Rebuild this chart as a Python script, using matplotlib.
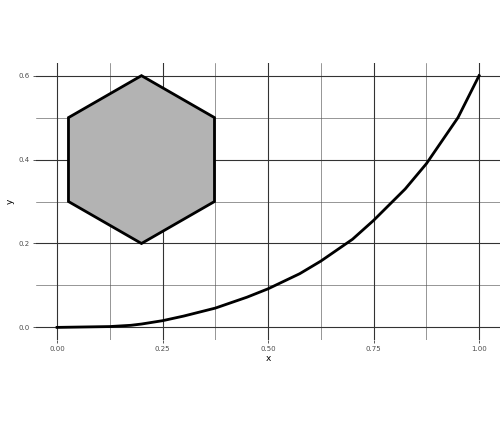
import matplotlib
matplotlib.use("Agg")
import matplotlib.pyplot as plt
from matplotlib.patches import Polygon

# curve
curve_x = [0.0, 0.125, 0.175, 0.2, 0.25, 0.3, 0.375, 0.45, 0.5, 0.575, 0.625, 0.7, 0.75, 0.825, 0.875, 0.95, 1.0]
curve_y = [0.0, 0.002, 0.005, 0.008, 0.016, 0.027, 0.046, 0.072, 0.092, 0.128, 0.158, 0.21, 0.255, 0.33, 0.39, 0.5, 0.6]

# hexagon vertices
hex_x = [0.2, 0.373, 0.373, 0.2, 0.027, 0.027]
hex_y = [0.6, 0.5, 0.3, 0.2, 0.3, 0.5]

x_ticks = [0.0, 0.25, 0.5, 0.75, 1.0]
x_labels = ["0.00", "0.25", "0.50", "0.75", "1.00"]
y_ticks = [0.0, 0.2, 0.4, 0.6]
y_labels = ["0.0", "0.2", "0.4", "0.6"]

fig = plt.figure(figsize=(7, 6), dpi=72)
ax = fig.add_axes([0.0714, 0.213, 0.921, 0.641])

ax.set_xlim(-0.05, 1.05)
ax.set_ylim(-0.03, 0.63)
for v in [0.125, 0.375, 0.625, 0.875]:
    ax.axvline(v, color="#555555", lw=0.6, zorder=0)
for v in [0.1, 0.3, 0.5]:
    ax.axhline(v, color="#555555", lw=0.6, zorder=0)
for v in x_ticks:
    ax.axvline(v, color="#333333", lw=1.1, zorder=0)
for v in y_ticks:
    ax.axhline(v, color="#333333", lw=1.1, zorder=0)

ax.add_patch(Polygon(list(zip(hex_x, hex_y)), closed=True, facecolor="#b3b3b3",
                     edgecolor="black", lw=2.8, zorder=2))
ax.plot(curve_x, curve_y, color="black", lw=2.8, zorder=3)

ax.set_xticks(x_ticks, x_labels)
ax.set_yticks(y_ticks, y_labels)
ax.tick_params(colors="#333333", labelcolor="#4d4d4d", labelsize=7, length=3, width=0.8)
for s in ax.spines.values():
    s.set_visible(False)
ax.set_xlabel("x", fontsize=9, labelpad=2)
ax.set_ylabel("y", fontsize=9, labelpad=4)

fig.savefig("out.png", dpi=72)
